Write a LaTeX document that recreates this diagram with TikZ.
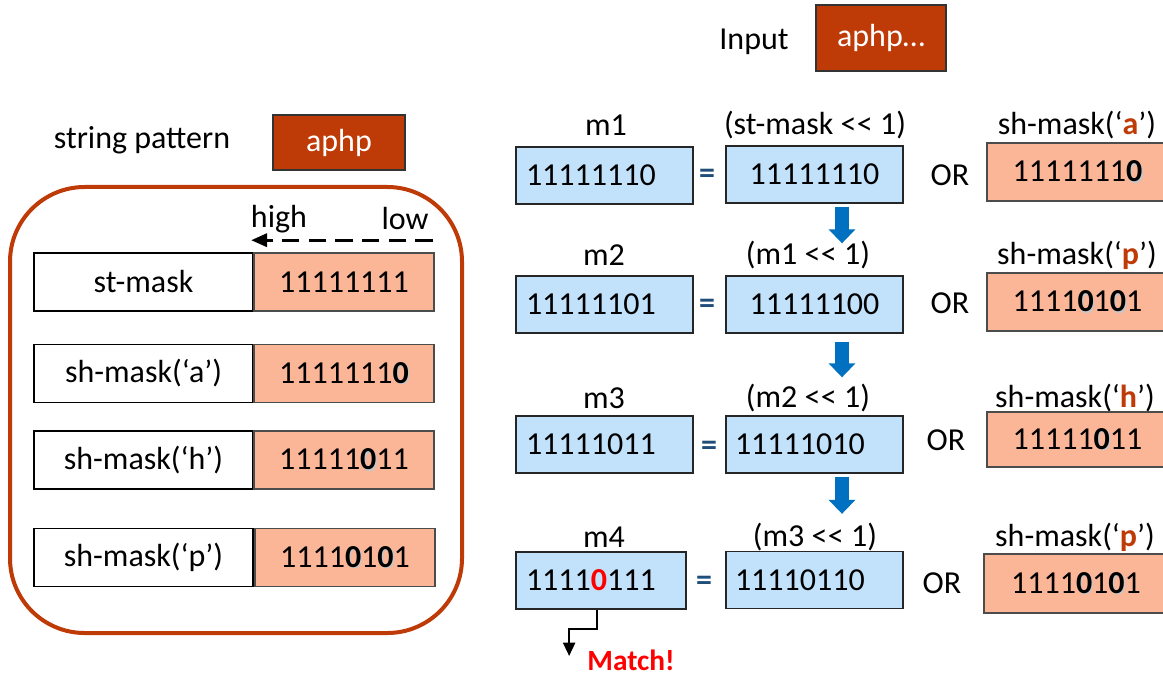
\documentclass[tikz,border=0pt]{standalone}
\usepackage{fontspec}
\setmainfont{Carlito}
\usetikzlibrary{calc,arrows.meta}
\definecolor{rust}{HTML}{BE3A06}
\definecolor{salmon}{HTML}{FBB597}
\definecolor{skyfill}{HTML}{C2E2FB}
\definecolor{flowblue}{HTML}{0070C0}
\definecolor{eqblue}{HTML}{1F4E79}
\definecolor{hitred}{HTML}{FF0000}
% bold zero with a soft drop shadow
\newcommand\bz{\makebox[0pt][l]{\kern1pt\raisebox{-1pt}{\textcolor{black!22}{\textbf{0}}}}\textbf{0}}
% highlighted pattern character
\newcommand\hl[1]{\textbf{\textcolor{rust}{#1}}}
% left-shift operator, kept as two separate characters
\newcommand\shl{<\kern0.3pt<}
\begin{document}
\begin{tikzpicture}[x=0.75pt,y=-0.75pt,
  every node/.style={font=\fontsize{24}{28}\selectfont, inner sep=0pt},
  rustbox/.style={draw=black!80, fill=rust, text=white, line width=0.9pt},
  namebox/.style={draw=black, fill=white, line width=1.2pt, minimum width=164.25pt, minimum height=43.5pt},
  maskbox/.style={draw=black!70, fill=salmon, line width=1.2pt, minimum width=135pt, minimum height=43.5pt},
  regbox/.style={draw=black!85, fill=skyfill, line width=1pt, minimum height=42.75pt, text width=117.75pt, inner xsep=7.5pt, align=left},
  shiftbox/.style={draw=black!85, fill=skyfill, line width=1pt, minimum height=42.75pt, text width=119.25pt, inner xsep=6.75pt},
  eqsign/.style={text=eqblue, font=\fontsize{24}{28}\selectfont\bfseries},
  flowarrow/.style={draw=flowblue, line width=10.5pt, -{Triangle[width=19.5pt,length=10.5pt]}},
  dasharrow/.style={draw=black, line width=2.2pt, dash pattern=on 13pt off 7pt, -{Triangle[width=10pt,length=12pt]}},
  matcharrow/.style={draw=black, line width=1.6pt, -{Triangle[width=9pt,length=10pt]}}
]
\useasboundingbox (0,0) rectangle (1163,677);

% ---- input and pattern ----
\node (inplbl) at (754,42) {Input};
\node[rustbox, minimum width=97.5pt, minimum height=49.5pt] (inp) at (881,38) {aphp…};
\node (patlbl) at (142,140) {string pattern};
\node[rustbox, minimum width=99pt, minimum height=41.25pt] (pat) at (339,142.5) {aphp};

% ---- mask table ----
\node[draw=rust, line width=3pt, rounded corners=56pt, minimum width=339pt, minimum height=334.5pt] (frame) at (236,410) {};
\node (high) at (279,219) {high};
\node (low) at (405,219) {low};

\node[namebox] (stn) at (143.5,282) {st-mask};
\node[maskbox] (stv) at (344,282) {11111111};
\node[namebox] (san) at (143.5,373.5) {sh-mask(‘a’)};
\node[maskbox] (sav) at (344,373.5) {1111111\bz};
\node[namebox] (shn) at (143.5,460) {sh-mask(‘h’)};
\node[maskbox] (shv) at (344,460) {11111\bz11};
\node[namebox] (spn) at (143.5,557.5) {sh-mask(‘p’)};
\node[maskbox] (spv) at (345,557.5) {1111\bz1\bz1};

\coordinate (lowend) at ($(stv.north east)+(-2,-12)$);
\draw[dasharrow] (lowend) -- ($(stv.north west)+(-2,-12)$);

% ---- row 1 ----
\node (l1) at (606,125) {m1};
\node (k1) at (815,125) {(st-mask \shl{} 1)};
\node (t1) at (1077,125) {sh-mask(‘\hl{a}’)};
\node[regbox] (m1) at (604.5,175.5) {11111110};
\node[eqsign] (e1) at (707,176) {=};
\node[shiftbox, align=center] (b1) at (814.5,174.5) {11111110};
\node (o1) at (950,175) {OR};
\node[maskbox, minimum width=135.75pt] (s1) at (1077.5,172) {1111111\bz};

% ---- row 2 ----
\node (l2) at (604,255) {m2};
\node (k2) at (808,255) {(m1 \shl{} 1)};
\node (t2) at (1077,255) {sh-mask(‘\hl{p}’)};
\node[regbox] (m2) at (604.5,304.5) {11111101};
\node[eqsign] (e2) at (707,306) {=};
\node[shiftbox, align=center] (b2) at (814.5,304.5) {11111100};
\node (o2) at (950,303) {OR};
\node[maskbox, minimum width=135.75pt] (s2) at (1077.5,302) {1111\bz1\bz1};

% ---- row 3 ----
\node (l3) at (604,398) {m3};
\node (k3) at (808,398) {(m2 \shl{} 1)};
\node (t3) at (1075,398) {sh-mask(‘\hl{h}’)};
\node[regbox] (m3) at (604.5,444.5) {11111011};
\node[eqsign] (e3) at (709,448) {=};
\node[shiftbox, align=left] (b3) at (814.5,444.5) {11111010};
\node (o3) at (946,440) {OR};
\node[maskbox, minimum width=135.75pt, minimum height=41.25pt] (s3) at (1077.5,439.5) {11111\bz11};

% ---- row 4 ----
\node (l4) at (604,537) {m4};
\node (k4) at (815,537) {(m3 \shl{} 1)};
\node (t4) at (1075,537) {sh-mask(‘\hl{p}’)};
\node[regbox, text width=112.5pt] (m4) at (601,580.5) {1111\textcolor{hitred}{\textbf{0}}111};
\node[eqsign] (e4) at (704,583) {=};
\node[shiftbox, align=left] (b4) at (814.5,580) {11110110};
\node (o4) at (942,583) {OR};
\node[maskbox, minimum width=138pt, minimum height=44.25pt] (s4) at (1076,583.5) {1111\bz1\bz1};

% ---- shift arrows ----
\draw[flowarrow] ($(b1.south)+(27.5,3)$) -- ($(b2.north)+(27.5,-32)$);
\draw[flowarrow] ($(b2.south)+(27.5,8)$) -- ($(b3.north)+(27.5,-38)$);
\draw[flowarrow] ($(b3.south)+(27.5,3)$) -- ($(b4.north)+(27.5,-37)$);

% ---- match ----
\node[text=hitred, font=\fontsize{22}{26}\selectfont\bfseries] (match) at (631,660) {Match!};
\coordinate (m4bit) at ($(m4.south)+(-4,0)$);
\draw[matcharrow] (m4bit) -- ++(0,19) -| ($(match.west)+(-18,-4)$);
\end{tikzpicture}
\end{document}
